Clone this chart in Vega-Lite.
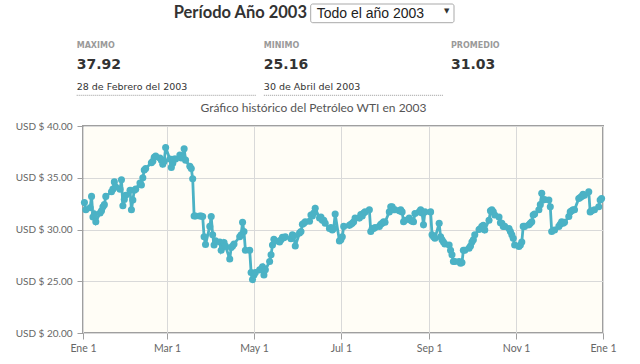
{
  "$schema": "https://vega.github.io/schema/vega-lite/v6.json",
  "width": 520,
  "height": 207,
  "autosize": {"type": "none"},
  "padding": {"left": 83, "top": 126, "right": 37, "bottom": 31},
  "background": "#ffffff",
  "config": {
    "view": {"fill": "#fffdf6", "stroke": "#9f9f9f", "strokeWidth": 2},
    "scale": {"pointPadding": 0}
  },
  "datasets": {
    "resumen": [
      {"stat": "MAXIMO", "valor": "37.92", "fecha": "28 de Febrero del 2003"},
      {"stat": "MINIMO", "valor": "25.16", "fecha": "30 de Abril del 2003"},
      {"stat": "PROMEDIO", "valor": "31.03", "fecha": ""}
    ],
    "precios": [
      {"fecha": "2003-01-02", "precio": 32.6}, {"fecha": "2003-01-03", "precio": 31.9}, {"fecha": "2003-01-06", "precio": 32.1}, {"fecha": "2003-01-07", "precio": 33.2}, {"fecha": "2003-01-08", "precio": 31.2}, {"fecha": "2003-01-09", "precio": 31.5}, {"fecha": "2003-01-10", "precio": 30.75}, {"fecha": "2003-01-13", "precio": 31.6}, {"fecha": "2003-01-14", "precio": 31.8}, {"fecha": "2003-01-15", "precio": 32.2}, {"fecha": "2003-01-16", "precio": 32.4}, {"fecha": "2003-01-17", "precio": 33.2}, {"fecha": "2003-01-21", "precio": 33.65}, {"fecha": "2003-01-22", "precio": 33.9}, {"fecha": "2003-01-23", "precio": 34.6}, {"fecha": "2003-01-24", "precio": 34.1}, {"fecha": "2003-01-27", "precio": 33.9}, {"fecha": "2003-01-28", "precio": 34.8}, {"fecha": "2003-01-29", "precio": 32.3}, {"fecha": "2003-01-30", "precio": 32.9}, {"fecha": "2003-01-31", "precio": 33.3},
      {"fecha": "2003-02-03", "precio": 33.8}, {"fecha": "2003-02-04", "precio": 31.9}, {"fecha": "2003-02-05", "precio": 32.85}, {"fecha": "2003-02-06", "precio": 33.8}, {"fecha": "2003-02-07", "precio": 33.9}, {"fecha": "2003-02-10", "precio": 34.5}, {"fecha": "2003-02-11", "precio": 34.3}, {"fecha": "2003-02-12", "precio": 35.0}, {"fecha": "2003-02-13", "precio": 35.75}, {"fecha": "2003-02-14", "precio": 35.9}, {"fecha": "2003-02-18", "precio": 36.45}, {"fecha": "2003-02-19", "precio": 36.6}, {"fecha": "2003-02-20", "precio": 36.97}, {"fecha": "2003-02-21", "precio": 37.1}, {"fecha": "2003-02-24", "precio": 36.9}, {"fecha": "2003-02-25", "precio": 36.7}, {"fecha": "2003-02-26", "precio": 36.3}, {"fecha": "2003-02-27", "precio": 36.6}, {"fecha": "2003-02-28", "precio": 37.92},
      {"fecha": "2003-03-03", "precio": 36.8}, {"fecha": "2003-03-04", "precio": 36.0}, {"fecha": "2003-03-05", "precio": 36.4}, {"fecha": "2003-03-06", "precio": 36.8}, {"fecha": "2003-03-07", "precio": 36.8}, {"fecha": "2003-03-10", "precio": 37.2}, {"fecha": "2003-03-11", "precio": 36.9}, {"fecha": "2003-03-12", "precio": 37.0}, {"fecha": "2003-03-13", "precio": 37.8}, {"fecha": "2003-03-14", "precio": 36.7}, {"fecha": "2003-03-17", "precio": 36.1}, {"fecha": "2003-03-18", "precio": 35.9}, {"fecha": "2003-03-19", "precio": 34.9}, {"fecha": "2003-03-20", "precio": 31.3}, {"fecha": "2003-03-21", "precio": 31.3}, {"fecha": "2003-03-24", "precio": 31.3}, {"fecha": "2003-03-25", "precio": 31.3}, {"fecha": "2003-03-26", "precio": 31.25}, {"fecha": "2003-03-27", "precio": 29.3}, {"fecha": "2003-03-28", "precio": 28.55}, {"fecha": "2003-03-31", "precio": 30.3},
      {"fecha": "2003-04-01", "precio": 31.25}, {"fecha": "2003-04-02", "precio": 29.5}, {"fecha": "2003-04-03", "precio": 28.5}, {"fecha": "2003-04-04", "precio": 28.9}, {"fecha": "2003-04-07", "precio": 28.8}, {"fecha": "2003-04-08", "precio": 28.0}, {"fecha": "2003-04-09", "precio": 28.3}, {"fecha": "2003-04-10", "precio": 28.75}, {"fecha": "2003-04-11", "precio": 28.4}, {"fecha": "2003-04-14", "precio": 27.15}, {"fecha": "2003-04-15", "precio": 28.25}, {"fecha": "2003-04-16", "precio": 28.4}, {"fecha": "2003-04-17", "precio": 28.6}, {"fecha": "2003-04-21", "precio": 29.3}, {"fecha": "2003-04-22", "precio": 29.5}, {"fecha": "2003-04-23", "precio": 30.7}, {"fecha": "2003-04-24", "precio": 29.8}, {"fecha": "2003-04-25", "precio": 28.0}, {"fecha": "2003-04-28", "precio": 28.0}, {"fecha": "2003-04-29", "precio": 25.85}, {"fecha": "2003-04-30", "precio": 25.16},
      {"fecha": "2003-05-01", "precio": 25.6}, {"fecha": "2003-05-02", "precio": 25.85}, {"fecha": "2003-05-05", "precio": 26.1}, {"fecha": "2003-05-06", "precio": 26.15}, {"fecha": "2003-05-07", "precio": 26.4}, {"fecha": "2003-05-08", "precio": 25.6}, {"fecha": "2003-05-09", "precio": 26.1}, {"fecha": "2003-05-12", "precio": 26.9}, {"fecha": "2003-05-13", "precio": 27.55}, {"fecha": "2003-05-14", "precio": 28.5}, {"fecha": "2003-05-15", "precio": 29.05}, {"fecha": "2003-05-16", "precio": 28.9}, {"fecha": "2003-05-19", "precio": 28.8}, {"fecha": "2003-05-20", "precio": 29.0}, {"fecha": "2003-05-21", "precio": 29.25}, {"fecha": "2003-05-22", "precio": 29.2}, {"fecha": "2003-05-23", "precio": 29.3}, {"fecha": "2003-05-27", "precio": 29.1}, {"fecha": "2003-05-28", "precio": 29.5}, {"fecha": "2003-05-29", "precio": 29.4}, {"fecha": "2003-05-30", "precio": 28.4},
      {"fecha": "2003-06-02", "precio": 29.65}, {"fecha": "2003-06-03", "precio": 29.8}, {"fecha": "2003-06-04", "precio": 30.5}, {"fecha": "2003-06-05", "precio": 30.6}, {"fecha": "2003-06-06", "precio": 30.75}, {"fecha": "2003-06-09", "precio": 30.8}, {"fecha": "2003-06-10", "precio": 31.4}, {"fecha": "2003-06-11", "precio": 31.3}, {"fecha": "2003-06-12", "precio": 31.6}, {"fecha": "2003-06-13", "precio": 32.05}, {"fecha": "2003-06-16", "precio": 31.1}, {"fecha": "2003-06-17", "precio": 31.2}, {"fecha": "2003-06-18", "precio": 30.9}, {"fecha": "2003-06-19", "precio": 30.9}, {"fecha": "2003-06-20", "precio": 30.6}, {"fecha": "2003-06-23", "precio": 30.1}, {"fecha": "2003-06-24", "precio": 30.2}, {"fecha": "2003-06-25", "precio": 29.95}, {"fecha": "2003-06-26", "precio": 30.1}, {"fecha": "2003-06-27", "precio": 31.5}, {"fecha": "2003-06-30", "precio": 28.9},
      {"fecha": "2003-07-01", "precio": 29.0}, {"fecha": "2003-07-02", "precio": 29.3}, {"fecha": "2003-07-03", "precio": 30.3}, {"fecha": "2003-07-07", "precio": 30.4}, {"fecha": "2003-07-08", "precio": 30.5}, {"fecha": "2003-07-09", "precio": 30.6}, {"fecha": "2003-07-10", "precio": 30.75}, {"fecha": "2003-07-11", "precio": 31.1}, {"fecha": "2003-07-14", "precio": 31.1}, {"fecha": "2003-07-15", "precio": 31.45}, {"fecha": "2003-07-16", "precio": 31.3}, {"fecha": "2003-07-17", "precio": 31.6}, {"fecha": "2003-07-18", "precio": 31.7}, {"fecha": "2003-07-21", "precio": 31.9}, {"fecha": "2003-07-22", "precio": 29.8}, {"fecha": "2003-07-23", "precio": 30.1}, {"fecha": "2003-07-24", "precio": 30.1}, {"fecha": "2003-07-25", "precio": 30.2}, {"fecha": "2003-07-28", "precio": 30.3}, {"fecha": "2003-07-29", "precio": 30.5}, {"fecha": "2003-07-30", "precio": 30.6}, {"fecha": "2003-07-31", "precio": 30.75},
      {"fecha": "2003-08-01", "precio": 30.7}, {"fecha": "2003-08-04", "precio": 31.7}, {"fecha": "2003-08-05", "precio": 32.2}, {"fecha": "2003-08-06", "precio": 32.2}, {"fecha": "2003-08-07", "precio": 31.9}, {"fecha": "2003-08-08", "precio": 31.9}, {"fecha": "2003-08-11", "precio": 31.8}, {"fecha": "2003-08-12", "precio": 31.9}, {"fecha": "2003-08-13", "precio": 31.7}, {"fecha": "2003-08-14", "precio": 30.75}, {"fecha": "2003-08-15", "precio": 30.9}, {"fecha": "2003-08-18", "precio": 31.1}, {"fecha": "2003-08-19", "precio": 30.9}, {"fecha": "2003-08-20", "precio": 30.8}, {"fecha": "2003-08-21", "precio": 30.75}, {"fecha": "2003-08-22", "precio": 31.55}, {"fecha": "2003-08-25", "precio": 31.7}, {"fecha": "2003-08-26", "precio": 31.9}, {"fecha": "2003-08-27", "precio": 31.6}, {"fecha": "2003-08-28", "precio": 30.45}, {"fecha": "2003-08-29", "precio": 31.7},
      {"fecha": "2003-09-02", "precio": 31.7}, {"fecha": "2003-09-03", "precio": 29.5}, {"fecha": "2003-09-04", "precio": 29.3}, {"fecha": "2003-09-05", "precio": 29.15}, {"fecha": "2003-09-08", "precio": 30.6}, {"fecha": "2003-09-09", "precio": 29.3}, {"fecha": "2003-09-10", "precio": 29.0}, {"fecha": "2003-09-11", "precio": 28.8}, {"fecha": "2003-09-12", "precio": 28.6}, {"fecha": "2003-09-15", "precio": 28.5}, {"fecha": "2003-09-16", "precio": 28.0}, {"fecha": "2003-09-17", "precio": 27.55}, {"fecha": "2003-09-18", "precio": 26.9}, {"fecha": "2003-09-19", "precio": 26.9}, {"fecha": "2003-09-22", "precio": 26.9}, {"fecha": "2003-09-23", "precio": 26.75}, {"fecha": "2003-09-24", "precio": 26.8}, {"fecha": "2003-09-25", "precio": 28.0}, {"fecha": "2003-09-26", "precio": 28.0}, {"fecha": "2003-09-29", "precio": 28.2}, {"fecha": "2003-09-30", "precio": 28.4},
      {"fecha": "2003-10-01", "precio": 28.8}, {"fecha": "2003-10-02", "precio": 29.0}, {"fecha": "2003-10-03", "precio": 29.5}, {"fecha": "2003-10-06", "precio": 30.0}, {"fecha": "2003-10-07", "precio": 30.1}, {"fecha": "2003-10-08", "precio": 30.3}, {"fecha": "2003-10-09", "precio": 30.4}, {"fecha": "2003-10-10", "precio": 29.95}, {"fecha": "2003-10-13", "precio": 30.9}, {"fecha": "2003-10-14", "precio": 31.8}, {"fecha": "2003-10-15", "precio": 31.9}, {"fecha": "2003-10-16", "precio": 31.7}, {"fecha": "2003-10-17", "precio": 31.4}, {"fecha": "2003-10-20", "precio": 31.2}, {"fecha": "2003-10-21", "precio": 30.65}, {"fecha": "2003-10-22", "precio": 30.6}, {"fecha": "2003-10-23", "precio": 30.3}, {"fecha": "2003-10-24", "precio": 30.3}, {"fecha": "2003-10-27", "precio": 30.1}, {"fecha": "2003-10-28", "precio": 29.8}, {"fecha": "2003-10-29", "precio": 29.5}, {"fecha": "2003-10-30", "precio": 29.15}, {"fecha": "2003-10-31", "precio": 28.5},
      {"fecha": "2003-11-03", "precio": 28.35}, {"fecha": "2003-11-04", "precio": 28.5}, {"fecha": "2003-11-05", "precio": 28.8}, {"fecha": "2003-11-06", "precio": 30.3}, {"fecha": "2003-11-07", "precio": 30.3}, {"fecha": "2003-11-10", "precio": 30.45}, {"fecha": "2003-11-11", "precio": 30.6}, {"fecha": "2003-11-12", "precio": 30.75}, {"fecha": "2003-11-13", "precio": 31.4}, {"fecha": "2003-11-14", "precio": 31.5}, {"fecha": "2003-11-17", "precio": 31.9}, {"fecha": "2003-11-18", "precio": 32.4}, {"fecha": "2003-11-19", "precio": 33.5}, {"fecha": "2003-11-20", "precio": 32.85}, {"fecha": "2003-11-21", "precio": 32.9}, {"fecha": "2003-11-24", "precio": 32.85}, {"fecha": "2003-11-25", "precio": 32.2}, {"fecha": "2003-11-26", "precio": 29.8}, {"fecha": "2003-11-28", "precio": 29.95},
      {"fecha": "2003-12-01", "precio": 30.3}, {"fecha": "2003-12-02", "precio": 30.5}, {"fecha": "2003-12-03", "precio": 30.75}, {"fecha": "2003-12-04", "precio": 30.6}, {"fecha": "2003-12-05", "precio": 30.7}, {"fecha": "2003-12-08", "precio": 31.25}, {"fecha": "2003-12-09", "precio": 31.7}, {"fecha": "2003-12-10", "precio": 31.8}, {"fecha": "2003-12-11", "precio": 31.9}, {"fecha": "2003-12-12", "precio": 31.9}, {"fecha": "2003-12-15", "precio": 33.0}, {"fecha": "2003-12-16", "precio": 33.1}, {"fecha": "2003-12-17", "precio": 33.2}, {"fecha": "2003-12-18", "precio": 33.4}, {"fecha": "2003-12-19", "precio": 33.3}, {"fecha": "2003-12-22", "precio": 33.65}, {"fecha": "2003-12-23", "precio": 31.7}, {"fecha": "2003-12-24", "precio": 31.8}, {"fecha": "2003-12-26", "precio": 31.9}, {"fecha": "2003-12-29", "precio": 32.2}, {"fecha": "2003-12-30", "precio": 32.85}, {"fecha": "2003-12-31", "precio": 33.0}
    ]
  },
  "resolve": {"scale": {"x": "independent", "y": "independent"}, "axis": {"x": "independent", "y": "independent"}},
  "layer": [
    {
      "data": {"name": "precios"},
      "encoding": {
        "x": {
          "field": "fecha", "type": "temporal",
          "scale": {"type": "utc", "domain": [{"year": 2003, "month": 1, "date": 1, "utc": true}, {"year": 2004, "month": 1, "date": 1, "utc": true}]},
          "axis": {
            "title": null,
            "values": [
              {"year": 2003, "month": 1, "date": 1, "utc": true},
              {"year": 2003, "month": 3, "date": 1, "utc": true},
              {"year": 2003, "month": 5, "date": 1, "utc": true},
              {"year": 2003, "month": 7, "date": 1, "utc": true},
              {"year": 2003, "month": 9, "date": 1, "utc": true},
              {"year": 2003, "month": 11, "date": 1, "utc": true},
              {"year": 2004, "month": 1, "date": 1, "utc": true}
            ],
            "labelExpr": "['Ene','Feb','Mar','Abr','May','Jun','Jul','Ago','Sep','Oct','Nov','Dic'][utcmonth(datum.value)] + ' ' + utcdate(datum.value)",
            "grid": true, "gridColor": "#d9d9d9", "gridWidth": 1,
            "domain": false, "tickColor": "#9f9f9f", "tickSize": 6, "tickWidth": 1,
            "labelPadding": 4, "labelFont": "Lato", "labelFontSize": 10.5, "labelColor": "#666666",
            "labelFlush": false, "labelOverlap": false
          }
        },
        "y": {
          "field": "precio", "type": "quantitative",
          "scale": {"domain": [20, 40], "nice": false, "zero": false},
          "axis": {
            "title": null,
            "values": [20, 25, 30, 35, 40],
            "labelExpr": "'USD $ ' + format(datum.value, '.2f')",
            "grid": true, "gridColor": "#d9d9d9", "gridWidth": 1,
            "domain": false, "tickColor": "#9f9f9f", "tickSize": 6, "tickWidth": 1,
            "labelPadding": 5, "labelFont": "Lato", "labelFontSize": 10, "labelColor": "#666666",
            "labelFlush": false, "labelOverlap": false
          }
        }
      },
      "layer": [
        {"mark": {"type": "line", "color": "#4bb2c5", "strokeWidth": 2.8}},
        {"mark": {"type": "point", "filled": true, "color": "#4bb2c5", "opacity": 1, "size": 50}}
      ]
    },
    {
      "data": {"values": [{"texto": "Gráfico histórico del Petróleo WTI en 2003"}]},
      "mark": {"type": "text", "font": "Lato", "fontSize": 12, "color": "#555555", "align": "center", "baseline": "alphabetic"},
      "encoding": {
        "text": {"field": "texto"},
        "x": {"datum": "grafico", "type": "nominal", "scale": {"type": "point", "padding": 0, "domain": ["grafico"], "range": [230.5, 230.5]}, "axis": null},
        "y": {"datum": "grafico", "type": "nominal", "scale": {"type": "point", "padding": 0, "domain": ["grafico"], "range": [-14.3, -14.3]}, "axis": null}
      }
    },
    {
      "data": {"values": [{"texto": "Período Año 2003"}]},
      "mark": {"type": "text", "font": "Lato", "fontSize": 16.5, "fontWeight": "bold", "color": "#333333", "align": "right", "baseline": "alphabetic"},
      "encoding": {
        "text": {"field": "texto"},
        "x": {"datum": "periodo", "type": "nominal", "scale": {"type": "point", "padding": 0, "domain": ["periodo"], "range": [224, 224]}, "axis": null},
        "y": {"datum": "periodo", "type": "nominal", "scale": {"type": "point", "padding": 0, "domain": ["periodo"], "range": [-108, -108]}, "axis": null}
      }
    },
    {
      "data": {"values": [{"opcion": "Todo el año 2003"}]},
      "mark": {"type": "rect", "fill": "#ffffff", "stroke": "#a9a9a9", "strokeWidth": 1, "cornerRadius": 2},
      "encoding": {
        "x": {"datum": "izquierda", "type": "nominal", "scale": {"type": "point", "padding": 0, "domain": ["izquierda", "derecha"], "range": [227.7, 371]}, "axis": null},
        "x2": {"datum": "derecha"},
        "y": {"datum": "arriba", "type": "nominal", "scale": {"type": "point", "padding": 0, "domain": ["arriba", "abajo"], "range": [-122, -103.3]}, "axis": null},
        "y2": {"datum": "abajo"}
      }
    },
    {
      "data": {"values": [{"opcion": "Todo el año 2003", "flecha": "▼"}]},
      "encoding": {
        "x": {"datum": "texto", "type": "nominal", "scale": {"type": "point", "padding": 0, "domain": ["texto", "flecha"], "range": [233.7, 363.7]}, "axis": null},
        "y": {"datum": "selector", "type": "nominal", "scale": {"type": "point", "padding": 0, "domain": ["selector"], "range": [-107.7, -107.7]}, "axis": null}
      },
      "layer": [
        {
          "mark": {"type": "text", "font": "Liberation Sans", "fontSize": 14, "color": "#222222", "align": "left", "baseline": "alphabetic"},
          "encoding": {"text": {"field": "opcion"}}
        },
        {
          "mark": {"type": "text", "font": "DejaVu Sans", "fontSize": 7, "color": "#333333", "align": "center", "baseline": "middle", "dy": -7},
          "encoding": {"text": {"field": "flecha"}, "x": {"datum": "flecha", "type": "nominal"}}
        }
      ]
    },
    {
      "data": {"name": "resumen"},
      "encoding": {
        "x": {"field": "stat", "type": "nominal", "scale": {"type": "point", "padding": 0, "domain": ["MAXIMO", "MINIMO", "PROMEDIO"], "range": [-6.3, 368]}, "axis": null}
      },
      "layer": [
        {
          "mark": {"type": "text", "font": "DejaVu Sans", "fontSize": 8, "fontWeight": "bold", "color": "#9a9a9a", "align": "left", "baseline": "alphabetic"},
          "encoding": {
            "text": {"field": "stat"},
            "y": {"datum": "etiqueta", "type": "nominal", "scale": {"type": "point", "padding": 0, "domain": ["etiqueta", "valor", "fecha"], "range": [-77.7, -35.7]}, "axis": null}
          }
        },
        {
          "mark": {"type": "text", "font": "DejaVu Sans", "fontSize": 14, "fontWeight": "bold", "color": "#333333", "align": "left", "baseline": "alphabetic"},
          "encoding": {
            "text": {"field": "valor"},
            "y": {"datum": "valor", "type": "nominal"}
          }
        },
        {
          "mark": {"type": "text", "font": "DejaVu Sans", "fontSize": 9.5, "color": "#333333", "align": "left", "baseline": "alphabetic"},
          "encoding": {
            "text": {"field": "fecha"},
            "y": {"datum": "fecha", "type": "nominal"}
          }
        },
        {
          "transform": [{"filter": "datum.fecha != ''"}],
          "mark": {"type": "rule", "color": "#9a9a9a", "strokeWidth": 1, "strokeDash": [1, 1], "x2Offset": 180, "yOffset": 5},
          "encoding": {
            "x2": {"field": "stat"},
            "y": {"datum": "fecha", "type": "nominal"}
          }
        }
      ]
    }
  ]
}
